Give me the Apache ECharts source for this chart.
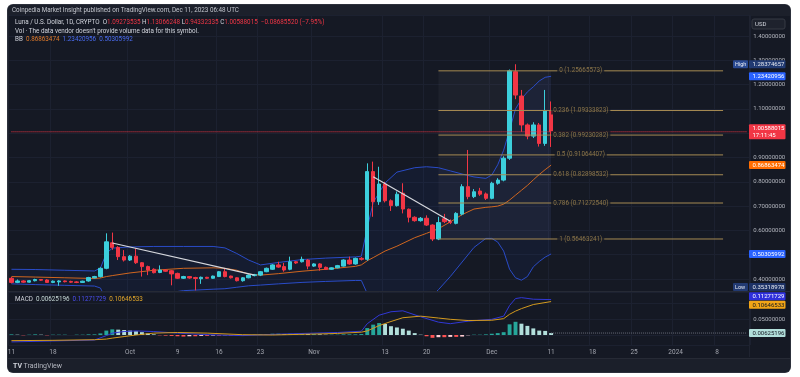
<!DOCTYPE html>
<html>
<head>
<meta charset="utf-8">
<script src="https://cdn.jsdelivr.net/npm/echarts@6/dist/echarts.min.js"></script>
<style>
  html, body { margin: 0; padding: 0; background: #fff; }
  #wrap { position: relative; width: 800px; height: 377px; overflow: hidden; }
  #frame { position: absolute; left: 8px; top: 5px; width: 782px; height: 367px; background: #151924;
           border-radius: 5px; box-shadow: 0 0 0 1px #2c303b; overflow: hidden; }
  #topband { position: absolute; left: 0; top: 0; width: 782px; height: 11px; background: #1c202b; }
  #footband { position: absolute; left: 0; top: 353px; width: 782px; height: 14px; background: #1b1f2a; border-top: 1px solid #262a35; }
  #chart { position: absolute; left: 0; top: 0; width: 800px; height: 377px; }
</style>
</head>
<body>
<div id="wrap">
  <div id="frame"><div id="topband"></div><div id="footband"></div></div>
  <div id="chart"></div>
</div>
<script>
// ---------- data ----------
// daily categories, Sep 11 2023 .. Jan 13 2024 (right side is empty space)
var days = [];
for (var t = Date.UTC(2023, 8, 11); t <= Date.UTC(2024, 0, 13); t += 864e5) {
    days.push(new Date(t).toISOString().slice(0, 10));
}

var tickDates = ['2023-09-11', '2023-09-18', '2023-10-01', '2023-10-09', '2023-10-16', '2023-10-23',
    '2023-11-01', '2023-11-13', '2023-11-20', '2023-12-01', '2023-12-11', '2023-12-18',
    '2023-12-25', '2024-01-01', '2024-01-08'];
var tickLabels = ['11', '18', 'Oct', '9', '16', '23', 'Nov', '13', '20', 'Dec', '11', '18', '25', '2024', '8'];

// LUNA/USD daily, Sep 11 .. Dec 11: [open, close, low, high]
var ohlc = [
    [0.403, 0.386, 0.382, 0.408], [0.386, 0.392, 0.383, 0.398], [0.392, 0.387, 0.384, 0.395],
    [0.387, 0.393, 0.385, 0.396], [0.393, 0.398, 0.390, 0.401], [0.398, 0.395, 0.392, 0.400],
    [0.396, 0.386, 0.384, 0.399], [0.386, 0.391, 0.383, 0.394], [0.388, 0.392, 0.372, 0.395],
    [0.392, 0.389, 0.386, 0.394], [0.390, 0.387, 0.384, 0.393], [0.388, 0.386, 0.383, 0.391],
    [0.386, 0.391, 0.384, 0.393], [0.392, 0.406, 0.389, 0.409], [0.405, 0.410, 0.402, 0.413],
    [0.410, 0.444, 0.406, 0.448], [0.444, 0.553, 0.440, 0.588], [0.549, 0.530, 0.520, 0.591],
    [0.530, 0.492, 0.478, 0.535], [0.492, 0.478, 0.472, 0.519], [0.478, 0.494, 0.474, 0.498],
    [0.494, 0.467, 0.462, 0.526], [0.467, 0.451, 0.410, 0.470], [0.451, 0.437, 0.416, 0.455],
    [0.440, 0.426, 0.423, 0.444], [0.427, 0.437, 0.424, 0.456], [0.437, 0.432, 0.429, 0.440],
    [0.434, 0.421, 0.374, 0.437], [0.423, 0.403, 0.400, 0.426], [0.403, 0.410, 0.400, 0.413],
    [0.410, 0.404, 0.401, 0.412], [0.406, 0.402, 0.35318978, 0.409], [0.401, 0.407, 0.380, 0.410],
    [0.407, 0.403, 0.400, 0.409], [0.403, 0.412, 0.401, 0.414], [0.410, 0.430, 0.408, 0.433],
    [0.430, 0.410, 0.407, 0.444], [0.412, 0.405, 0.402, 0.414], [0.405, 0.393, 0.390, 0.407],
    [0.393, 0.405, 0.389, 0.408], [0.405, 0.416, 0.403, 0.419], [0.414, 0.418, 0.411, 0.421],
    [0.416, 0.430, 0.412, 0.433], [0.430, 0.444, 0.428, 0.447], [0.440, 0.458, 0.437, 0.461],
    [0.458, 0.449, 0.446, 0.471], [0.451, 0.437, 0.430, 0.466], [0.440, 0.471, 0.436, 0.492],
    [0.471, 0.466, 0.462, 0.474], [0.471, 0.481, 0.468, 0.492], [0.478, 0.453, 0.440, 0.482],
    [0.453, 0.462, 0.450, 0.465], [0.462, 0.448, 0.434, 0.465], [0.448, 0.440, 0.437, 0.451],
    [0.440, 0.446, 0.438, 0.448], [0.446, 0.455, 0.444, 0.458], [0.453, 0.478, 0.451, 0.481],
    [0.478, 0.462, 0.459, 0.492], [0.462, 0.485, 0.459, 0.488], [0.485, 0.481, 0.476, 0.490],
    [0.481, 0.842, 0.475, 0.876], [0.842, 0.718, 0.656, 0.883], [0.718, 0.791, 0.705, 0.862],
    [0.791, 0.722, 0.715, 0.800], [0.722, 0.702, 0.680, 0.728], [0.702, 0.749, 0.698, 0.760],
    [0.753, 0.688, 0.670, 0.794], [0.687, 0.654, 0.633, 0.690], [0.654, 0.640, 0.636, 0.658],
    [0.640, 0.650, 0.636, 0.655], [0.650, 0.622, 0.618, 0.662], [0.622, 0.5646, 0.556, 0.625],
    [0.5646, 0.632, 0.560, 0.656], [0.648, 0.636, 0.630, 0.668], [0.636, 0.632, 0.626, 0.645],
    [0.629, 0.670, 0.625, 0.675], [0.667, 0.780, 0.662, 0.790], [0.780, 0.739, 0.728, 0.931],
    [0.739, 0.759, 0.733, 0.770], [0.762, 0.749, 0.742, 0.775], [0.750, 0.732, 0.725, 0.756],
    [0.732, 0.794, 0.728, 0.800], [0.794, 0.807, 0.788, 0.815], [0.807, 0.897, 0.802, 0.905],
    [0.897, 1.2567, 0.890, 1.262], [1.253, 1.157, 1.140, 1.28374657], [1.153, 1.034, 1.006, 1.178],
    [1.034, 0.988, 0.975, 1.040], [0.988, 1.034, 0.980, 1.045], [1.034, 0.958, 0.945, 1.042],
    [0.958, 1.0927, 0.948, 1.178], [1.09273535, 1.00588015, 0.94332335, 1.13066248]
];

// Bollinger bands at these dates
var bbDates = ['2023-09-11', '2023-09-15', '2023-09-20', '2023-09-25', '2023-09-26', '2023-09-27',
    '2023-09-28', '2023-10-01', '2023-10-05', '2023-10-10', '2023-10-15', '2023-10-17', '2023-10-19',
    '2023-10-21', '2023-10-23', '2023-10-26', '2023-10-30', '2023-11-03', '2023-11-08', '2023-11-09',
    '2023-11-10', '2023-11-11', '2023-11-13', '2023-11-15', '2023-11-18', '2023-11-20', '2023-11-22',
    '2023-11-24', '2023-11-26', '2023-11-28', '2023-11-30', '2023-12-01', '2023-12-02', '2023-12-03',
    '2023-12-04', '2023-12-05', '2023-12-06', '2023-12-07', '2023-12-08', '2023-12-09', '2023-12-10',
    '2023-12-11'];
var bbUpper = [0.440, 0.439, 0.436, 0.433, 0.445, 0.505, 0.527, 0.532, 0.534, 0.534, 0.534, 0.528,
    0.505, 0.478, 0.458, 0.468, 0.480, 0.486, 0.491, 0.494, 0.610, 0.715, 0.795, 0.840, 0.858, 0.862,
    0.858, 0.845, 0.832, 0.820, 0.814, 0.828, 0.870, 0.930, 1.013, 1.100, 1.140, 1.170, 1.191, 1.215,
    1.230, 1.23420956];
var bbBasis = [0.410, 0.408, 0.405, 0.402, 0.404, 0.410, 0.414, 0.425, 0.436, 0.444, 0.446, 0.444,
    0.436, 0.420, 0.416, 0.422, 0.432, 0.440, 0.452, 0.458, 0.475, 0.488, 0.515, 0.535, 0.570, 0.588,
    0.607, 0.635, 0.665, 0.688, 0.695, 0.697, 0.700, 0.708, 0.725, 0.745, 0.765, 0.785, 0.808, 0.830,
    0.850, 0.86863474];
var bbLower = [0.380, 0.377, 0.374, 0.371, 0.363, 0.315, 0.300, 0.318, 0.335, 0.352, 0.358, 0.360,
    0.366, 0.372, 0.375, 0.380, 0.386, 0.390, 0.394, 0.394, 0.340, 0.262, 0.215, 0.210, 0.260, 0.310,
    0.356, 0.410, 0.470, 0.530, 0.567, 0.567, 0.552, 0.515, 0.440, 0.405, 0.395, 0.410, 0.450, 0.472,
    0.490, 0.50305992];

// MACD pane
var macdDates = ['2023-09-11', '2023-09-18', '2023-09-25', '2023-09-27', '2023-09-28', '2023-09-30',
    '2023-10-02', '2023-10-05', '2023-10-09', '2023-10-14', '2023-10-20', '2023-10-25', '2023-11-01',
    '2023-11-05', '2023-11-09', '2023-11-10', '2023-11-12', '2023-11-14', '2023-11-16', '2023-11-19',
    '2023-11-22', '2023-11-24', '2023-11-27', '2023-12-01', '2023-12-03', '2023-12-04', '2023-12-05',
    '2023-12-06', '2023-12-08', '2023-12-11'];
var macdLine = [-0.022, -0.019, -0.016, -0.002, 0.006, 0.011, 0.013, 0.011, 0.006, 0.001, -0.002, 0.002,
    0.006, 0.008, 0.012, 0.036, 0.063, 0.074, 0.077, 0.058, 0.041, 0.036, 0.044, 0.050, 0.060, 0.094,
    0.116, 0.119, 0.114, 0.11271729];
var signalLine = [-0.018, -0.017, -0.015, -0.013, -0.010, -0.005, 0.000, 0.006, 0.008, 0.006, 0.001,
    0.000, 0.003, 0.005, 0.009, 0.013, 0.030, 0.043, 0.055, 0.060, 0.054, 0.050, 0.046, 0.047, 0.052,
    0.066, 0.076, 0.084, 0.097, 0.10646533];
var histogram = [
    0.002, 0.001, -0.001, 0.001, 0.002, 0.001, -0.001, 0.001, 0.001, 0.001, 0.000, 0.001, 0.001, 0.002,
    0.002, 0.005, 0.014, 0.018, 0.017, 0.016, 0.014, 0.012, 0.009, 0.005, 0.002, -0.001, -0.002, -0.003,
    -0.004, -0.005, -0.004, -0.004, -0.003, -0.003, -0.002, -0.002, -0.001, -0.002, -0.002, -0.001,
    0.000, 0.001, 0.002, 0.003, 0.004, 0.004, 0.003, 0.004, 0.004, 0.004, 0.003, 0.003, 0.002, 0.001,
    0.001, 0.001, 0.002, 0.002, 0.002, 0.003, 0.022, 0.033, 0.038, 0.035, 0.028, 0.024, 0.020, 0.014,
    0.006, 0.001, -0.004, -0.009, -0.007, -0.007, -0.006, -0.006, -0.005, -0.001, 0.001, 0.001, 0.002,
    0.004, 0.006, 0.009, 0.034, 0.042, 0.036, 0.029, 0.021, 0.014, 0.013, 0.00625196
];

// Fibonacci retracement drawn on the chart
var fibLevels = ['0', '0.236', '0.382', '0.5', '0.618', '0.786', '1'];
var fibPrices = [1.25665573, 1.09333823, 0.99230282, 0.91064407, 0.82898532, 0.71272540, 0.56463241];
var fibStart = '2023-11-22', fibEnd = '2024-01-09', fibLabelAt = '2023-12-16', fibZoneEnd = '2023-12-11';

// hand-drawn trend lines
var trendLines = [
    [['2023-09-28', 0.548], ['2023-10-22', 0.416]],
    [['2023-11-11', 0.821], ['2023-11-24', 0.638]]
];

var FONT = 'Roboto, "Liberation Sans", sans-serif';
var C = {
    bg: '#151924', text: '#b2b5be', grid: '#1c2130', up: '#3ccfdc', down: '#f23645',
    band: '#2a4cc8', basis: '#d0661f', fib: '#a68b53', macd: '#3138d6', signal: '#d49a1e'
};

var last = ohlc[ohlc.length - 1];
var lastClose = last[1];
var hiVal = Math.max.apply(null, ohlc.map(function (d) { return d[3]; }));
var loVal = Math.min.apply(null, ohlc.map(function (d) { return d[2]; }));
var f8 = function (v) { return v.toFixed(8); };
var isTick = function (i, v) { return tickDates.indexOf(v) >= 0; };
var pair = function (dates, vals) { return dates.map(function (d, i) { return [d, vals[i]]; }); };

var myChart = echarts.init(document.getElementById('chart'));

// plain two-point line in the price pane
function segment(a, b, style, grid) {
    return {
        type: 'line', xAxisIndex: grid || 0, yAxisIndex: grid || 0, data: [a, b], symbol: 'none', silent: true,
        z: 5, lineStyle: style
    };
}

var series = [
    {
        // band fill
        type: 'custom', xAxisIndex: 0, yAxisIndex: 0, silent: true, clip: true, z: 1,
        data: bbDates.map(function (d, i) { return [days.indexOf(d), bbUpper[i], bbLower[i]]; }),
        encode: { x: 0, y: [1, 2] },
        renderItem: function (params, api) {
            if (params.dataIndex !== 0) return null;
            var lo = 0.35062;
            var up = bbDates.map(function (d, i) { return api.coord([days.indexOf(d), bbUpper[i]]); });
            var dn = bbDates.map(function (d, i) { return api.coord([days.indexOf(d), Math.max(bbLower[i], lo)]); });
            return { type: 'polygon', shape: { points: up.concat(dn.reverse()) }, style: { fill: 'rgba(41,98,255,0.055)' } };
        }
    },
    {
        type: 'line', xAxisIndex: 0, yAxisIndex: 0, data: pair(bbDates, bbUpper), symbol: 'none',
        lineStyle: { color: C.band, width: 1 }, z: 3
    },
    {
        type: 'line', xAxisIndex: 0, yAxisIndex: 0, data: pair(bbDates, bbLower), symbol: 'none',
        lineStyle: { color: C.band, width: 1 }, z: 3
    },
    {
        type: 'line', xAxisIndex: 0, yAxisIndex: 0, data: pair(bbDates, bbBasis), symbol: 'none',
        lineStyle: { color: C.basis, width: 1 }, z: 3
    },
    {
        type: 'candlestick', xAxisIndex: 0, yAxisIndex: 0, data: ohlc, barWidth: '66%', z: 4,
        itemStyle: { color: C.up, color0: C.down, borderColor: C.up, borderColor0: C.down, borderWidth: 1 },
        markArea: {
            silent: true,
            itemStyle: { color: 'rgba(140,145,160,0.07)' },
            data: [[{ coord: [fibStart, fibPrices[0]] }, { coord: [fibZoneEnd, fibPrices[fibPrices.length - 1]] }]]
        }
    }
];
fibPrices.forEach(function (p) {
    series.push(segment([fibStart, p], [fibEnd, p], { color: C.fib, width: 1 }));
});
series.push({
    type: 'scatter', xAxisIndex: 0, yAxisIndex: 0, silent: true, z: 6, symbolSize: 0,
    data: fibPrices.map(function (p) { return [fibLabelAt, p]; }),
    label: {
        show: true, position: 'inside', color: C.fib, fontSize: 6.3, fontFamily: FONT,
        backgroundColor: C.bg, padding: [1, 2],
        formatter: function (p) { return fibLevels[p.dataIndex] + ' (' + f8(fibPrices[p.dataIndex]) + ')'; }
    }
});
trendLines.forEach(function (l) {
    series.push(segment(l[0], l[1], { color: '#d6d8de', width: 1.2 }));
});
series.push(segment([days[0], lastClose], [days[days.length - 1], lastClose], { color: C.down, width: 1, type: 'dotted' }));
series.push({
    type: 'bar', xAxisIndex: 1, yAxisIndex: 1, data: histogram, barWidth: '66%', z: 2,
    itemStyle: {
        color: function (p) {
            var v = p.value, prev = p.dataIndex > 0 ? histogram[p.dataIndex - 1] : v;
            if (v >= 0) return v >= prev ? '#26a69a' : '#b2dfdb';
            return v <= prev ? '#ff5252' : '#ffcdd2';
        }
    }
});
series.push(segment([days[histogram.length - 1], histogram[histogram.length - 1]],
    [days[days.length - 1], histogram[histogram.length - 1]], { color: '#6a6e7a', width: 1, type: 'dotted' }, 1));
series.push({
    type: 'line', xAxisIndex: 1, yAxisIndex: 1, data: pair(macdDates, macdLine), symbol: 'none',
    lineStyle: { color: C.macd, width: 1 }, z: 3
});
series.push({
    type: 'line', xAxisIndex: 1, yAxisIndex: 1, data: pair(macdDates, signalLine), symbol: 'none',
    lineStyle: { color: C.signal, width: 1 }, z: 3
});

var option = {
    animation: false,
    backgroundColor: 'transparent',
    textStyle: { fontFamily: FONT },
    grid: [
        { left: 8.5, right: 50.25, top: 15, height: 276, outerBoundsMode: 'none' },
        { left: 8.5, right: 50.25, top: 292, height: 53, outerBoundsMode: 'none' }
    ],
    xAxis: [
        {
            type: 'category', gridIndex: 0, data: days, boundaryGap: true,
            axisLine: { show: false }, axisTick: { show: false }, axisLabel: { show: false },
            splitLine: { show: true, interval: isTick, lineStyle: { color: C.grid, width: 1 } }
        },
        {
            type: 'category', gridIndex: 1, data: days, boundaryGap: true,
            axisLine: { show: false }, axisTick: { show: false },
            axisLabel: {
                interval: isTick, color: '#a3a6af', fontSize: 6.5, margin: 4,
                formatter: function (v) { return tickLabels[tickDates.indexOf(v)]; }
            },
            splitLine: { show: true, interval: isTick, lineStyle: { color: C.grid, width: 1 } }
        }
    ],
    yAxis: [
        {
            type: 'value', gridIndex: 0, position: 'right', min: 0.35062, max: 1.48642, splitNumber: 11,
            axisLine: { show: false }, axisTick: { show: false },
            axisLabel: { color: C.text, fontSize: 6, margin: 3.5, formatter: f8, showMinLabel: false, showMaxLabel: false },
            splitLine: { lineStyle: { color: C.grid, width: 1 } }
        },
        {
            type: 'value', gridIndex: 1, position: 'right', min: -0.03185, max: 0.13694, splitNumber: 3,
            axisLine: { show: false }, axisTick: { show: false },
            axisLabel: {
                color: C.text, fontSize: 6, margin: 3.5, showMinLabel: false, showMaxLabel: false,
                formatter: function (v) { return Math.abs(v - 0.05) < 1e-9 ? f8(v) : ''; }
            },
            splitLine: { lineStyle: { color: C.grid, width: 1 } }
        }
    ],
    series: series
};

option && myChart.setOption(option);

// ---------- header texts, price tags ----------
var txt = function (x, y, text, rich, extra) {
    var el = {
        type: 'text', x: x, y: y, z: 100,
        style: { text: text, rich: rich, fill: '#d1d4dc', fontSize: 6.3, fontFamily: FONT, verticalAlign: 'middle', textVerticalAlign: 'middle' }
    };
    if (extra) for (var k in extra) el.style[k] = extra[k];
    return el;
};
var rs = function (color) { return { fill: color, fontSize: 6.3, fontFamily: FONT }; };
var els = [];
els.push(txt(12, 10.5, 'Coinpedia Market Insight published on TradingView.com, Dec 11, 2023 06:48 UTC', null, { fill: '#c3c6ce' }));
var chg = lastClose - last[0];
els.push(txt(15, 22.5,
    '{w|Luna / U.S. Dollar, 1D, CRYPTO}  {w|O}{r|' + f8(last[0]) + '} {w|H}{r|' + f8(last[3]) + '} {w|L}{r|' +
    f8(last[2]) + '} {w|C}{r|' + f8(lastClose) + '}  {r|\u2212' + f8(Math.abs(chg)) + ' (\u2212' +
    (Math.abs(chg) / last[0] * 100).toFixed(2) + '%)}',
    { w: rs('#d1d4dc'), r: rs('#f23645') }));
els.push(txt(15, 31, "Vol \u00b7 The data vendor doesn't provide volume data for this symbol.", null));
els.push(txt(15, 39, '{w|BB}  {o|' + f8(bbBasis[bbBasis.length - 1]) + '}  {b|' + f8(bbUpper[bbUpper.length - 1]) +
    '}  {b|' + f8(bbLower[bbLower.length - 1]) + '}', { w: rs('#d1d4dc'), o: rs('#e07a2a'), b: rs('#4a6cf0') }));
els.push(txt(15, 299, '{w|MACD}  {h|' + f8(histogram[histogram.length - 1]) + '}  {b|' + f8(macdLine[macdLine.length - 1]) +
    '}  {o|' + f8(signalLine[signalLine.length - 1]) + '}', { w: rs('#d1d4dc'), h: rs('#c6d8d6'), b: rs('#4b4ff0'), o: rs('#e0a52a') }));
els.push(txt(13, 366, '{l|TV} {t|TradingView}', {
    l: { fill: '#d1d4dc', fontSize: 7, fontWeight: 'bold', fontFamily: FONT },
    t: { fill: '#b2b5be', fontSize: 7, fontFamily: FONT }
}));
// USD box
els.push({ type: 'rect', z: 100, shape: { x: 752, y: 19, width: 33, height: 10, r: 2 }, style: { fill: '#1e222d', stroke: '#363a45', lineWidth: 1 } });
els.push(txt(755, 24, 'USD', null, { fill: '#d1d4dc', fontSize: 6 }));
// separators
els.push({ type: 'line', z: 90, shape: { x1: 8, y1: 291.5, x2: 790, y2: 291.5 }, style: { stroke: '#262a35', lineWidth: 1 } });
els.push({ type: 'line', z: 90, shape: { x1: 749.5, y1: 15, x2: 749.5, y2: 357 }, style: { stroke: '#1f2330', lineWidth: 1 } });

var tags = [
    { axis: 0, v: hiVal, text: f8(hiVal), bg: '#213a72', fg: '#e6e9f0', side: 'High', sideBg: '#2a4a92' },
    { axis: 0, v: bbUpper[bbUpper.length - 1], text: f8(bbUpper[bbUpper.length - 1]), bg: '#2962ff', fg: '#fff' },
    { axis: 0, v: lastClose, text: f8(lastClose) + '\n17:11:45', bg: '#f23645', fg: '#fff', h: 15 },
    { axis: 0, v: bbBasis[bbBasis.length - 1], text: f8(bbBasis[bbBasis.length - 1]), bg: '#ff6d00', fg: '#fff' },
    { axis: 0, v: bbLower[bbLower.length - 1], text: f8(bbLower[bbLower.length - 1]), bg: '#2962ff', fg: '#fff' },
    { axis: 0, v: loVal, text: f8(loVal), bg: '#1d3266', fg: '#e6e9f0', side: 'Low', sideBg: '#223a72', max: 287 },
    { axis: 1, v: macdLine[macdLine.length - 1], text: f8(macdLine[macdLine.length - 1]), bg: '#2f30dc', fg: '#fff' },
    { axis: 1, v: signalLine[signalLine.length - 1], text: f8(signalLine[signalLine.length - 1]), bg: '#f2a516', fg: '#131722' },
    { axis: 1, v: histogram[histogram.length - 1], text: f8(histogram[histogram.length - 1]), bg: '#b2dfdb', fg: '#131722' }
];
tags.forEach(function (g) {
    g.y = myChart.convertToPixel({ yAxisIndex: g.axis }, g.v);
    g.h = g.h || 8;
    if (g.max && g.y > g.max) g.y = g.max;
});
tags.sort(function (a, b) { return a.y - b.y; });
for (var it = 0; it < 20; it++) {
    for (var i = 1; i < tags.length; i++) {
        var a = tags[i - 1], b = tags[i];
        var need = (a.h + b.h) / 2 + 0.5 - (b.y - a.y);
        if (need > 0) { a.y -= need / 2; b.y += need / 2; }
    }
}
tags.forEach(function (g) {
    els.push({ type: 'rect', z: 110, shape: { x: 749, y: g.y - g.h / 2, width: 36.5, height: g.h, r: 1 }, style: { fill: g.bg } });
    els.push(txt(752.5, g.y + 0.3, g.text, null, { fill: g.fg, fontSize: 6, lineHeight: 7 }));
    els[els.length - 1].z = 111;
    if (g.side) {
        els.push({ type: 'rect', z: 110, shape: { x: 733, y: g.y - g.h / 2, width: 15, height: g.h, r: 1 }, style: { fill: g.sideBg } });
        els.push(txt(735, g.y + 0.3, g.side, null, { fill: '#e6e9f0', fontSize: 5.5 }));
        els[els.length - 1].z = 111;
    }
});

myChart.setOption({ graphic: { elements: els } });
</script>
</body>
</html>
